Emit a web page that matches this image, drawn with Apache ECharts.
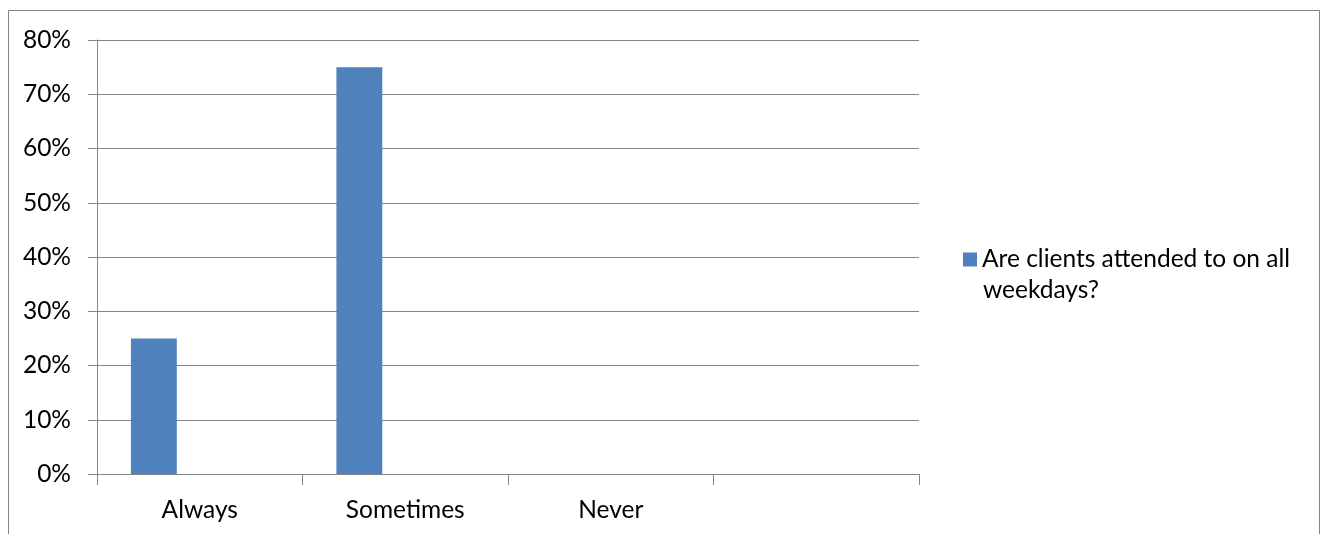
<!DOCTYPE html>
<html>
<head>
<meta charset="utf-8">
<style>
  html, body { margin: 0; padding: 0; background: #ffffff; }
  #chart { width: 1330px; height: 534px; }
</style>
<script src="https://cdn.jsdelivr.net/npm/echarts@6/dist/echarts.min.js"></script>
</head>
<body>
<div id="chart"></div>
<script>
// Answer categories (the fourth slot is an unlabeled empty category)
const categories = ['Always', 'Sometimes', 'Never', ''];
// Share of responses per category
const attendedShare = [0.25, 0.75, 0, null];
const seriesName = 'Are clients attended to on all weekdays?';
// Legend text wrapped over two lines
const legendLines = ['Are clients attended to on all', 'weekdays?'];
// Y axis ticks: 0% .. 80% in steps of 10%
const yMin = 0, yMax = 0.8, yStep = 0.1;

const FONT = 'Lato';
const FONT_SIZE = 24.5;
const GRAY = '#868686';

const chart = echarts.init(document.getElementById('chart'), null, { renderer: 'canvas' });

chart.setOption({
  animation: false,
  backgroundColor: '#ffffff',
  graphic: [
    {
      type: 'rect',
      shape: { x: 8.5, y: 10.5, width: 1311, height: 600 },
      style: { fill: 'none', stroke: GRAY, lineWidth: 1 },
      silent: true
    },
    {
      // second line of the legend label
      type: 'text',
      left: 983,
      top: 278,
      style: {
        text: legendLines[1],
        fontFamily: FONT, fontSize: FONT_SIZE, fill: '#000'
      },
      silent: true
    }
  ],
  grid: { left: 97, right: 411, top: 40, bottom: 60, containLabel: false },
  legend: {
    data: [seriesName],
    left: 958,
    top: 242,
    itemWidth: 14,
    itemHeight: 14,
    itemGap: 0,
    icon: 'rect',
    formatter: () => legendLines[0],
    textStyle: { fontFamily: FONT, fontSize: FONT_SIZE, color: '#000' },
    itemStyle: { borderWidth: 0 }
  },
  xAxis: {
    type: 'category',
    data: categories,
    boundaryGap: true,
    axisLine: { show: true, lineStyle: { color: GRAY, width: 1 } },
    axisTick: { show: true, length: 11, lineStyle: { color: GRAY } },
    axisLabel: { fontFamily: FONT, fontSize: FONT_SIZE, color: '#000', margin: 24 },
    splitLine: { show: false }
  },
  yAxis: {
    type: 'value',
    min: yMin, max: yMax, interval: yStep,
    axisLine: { show: true, lineStyle: { color: GRAY, width: 1 } },
    axisTick: { show: true, length: 9, lineStyle: { color: GRAY } },
    axisLabel: {
      fontFamily: FONT, fontSize: FONT_SIZE, color: '#000', margin: 26,
      formatter: v => Math.round(v * 100) + '%'
    },
    splitLine: { show: true, lineStyle: { color: GRAY, width: 1 } }
  },
  series: [
    {
      name: seriesName,
      type: 'bar',
      data: attendedShare,
      barGap: '0%',
      barCategoryGap: '33%',
      itemStyle: { color: '#4f81bd' }
    },
    // two empty companion series keep the clustered bar position
    { type: 'bar', data: categories.map(() => null), barGap: '0%', barCategoryGap: '33%' },
    { type: 'bar', data: categories.map(() => null), barGap: '0%', barCategoryGap: '33%' }
  ]
});
</script>
</body>
</html>
